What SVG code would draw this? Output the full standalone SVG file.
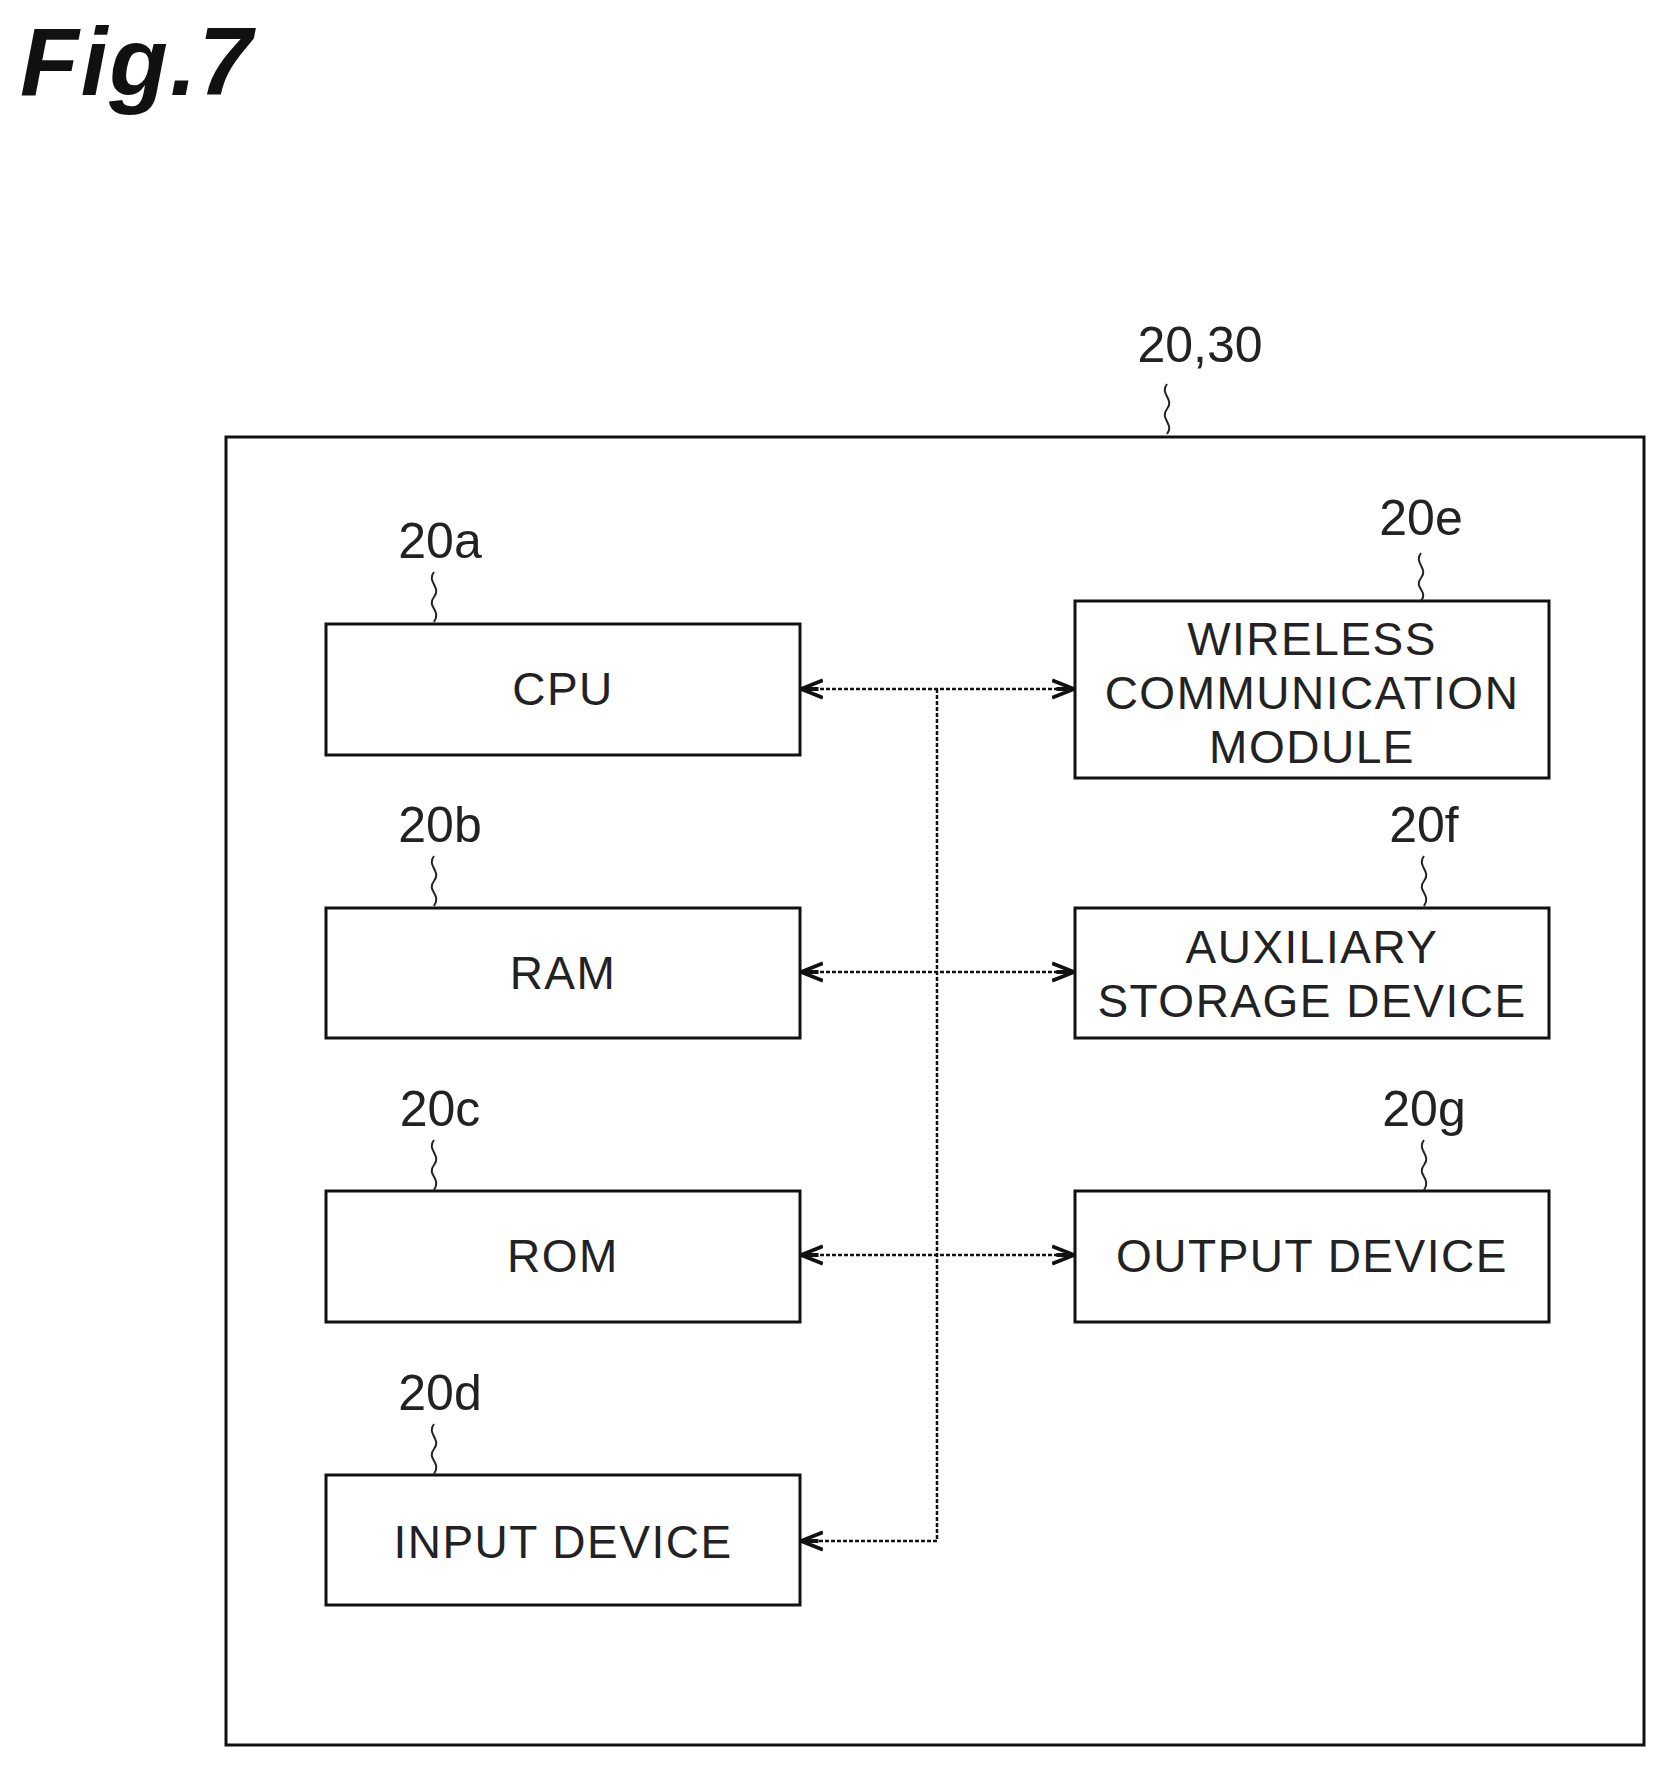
<svg xmlns="http://www.w3.org/2000/svg" width="1667" height="1768" viewBox="0 0 1667 1768">
<style>
.b{fill:none;stroke:#111;stroke-width:3}
.t{font-family:"Liberation Sans",Arial,sans-serif;font-size:46px;fill:#222;text-anchor:middle;letter-spacing:1.5px}
.l{font-family:"Liberation Sans",Arial,sans-serif;font-size:50px;fill:#222;text-anchor:middle}
.c{fill:none;stroke:#111;stroke-width:2.5;stroke-dasharray:4 2}
.q{fill:none;stroke:#222;stroke-width:2}
</style>
<defs>
<marker id="a" viewBox="0 0 20 20" refX="19" refY="10" markerWidth="22" markerHeight="22" markerUnits="userSpaceOnUse" orient="auto-start-reverse">
<path d="M0,2 L20,10 L0,18 M4,10 L20,10" fill="none" stroke="#111" stroke-width="3.5"/>
</marker>
</defs>
<rect width="1667" height="1768" fill="#fff"/>
<text x="20" y="95" font-family="Liberation Sans,Arial,sans-serif" font-size="96" font-weight="bold" font-style="italic" fill="#111" letter-spacing="2">Fig.7</text>
<g id="outer">
<rect class="b" x="226" y="437" width="1418" height="1308"/>
<text class="l" x="1200" y="362">20,30</text>
<path class="q" d="M1167,384 c-8,10 8,15 0,25 c-8,10 8,15 0,25"/>
</g>
<g id="cpu"><rect class="b" x="326" y="624" width="474" height="131"/><text class="t" x="563" y="705">CPU</text>
<text class="l" x="440" y="558">20a</text><path class="q" d="M434,572 c-8,10 8,15 0,25 c-8,10 8,13 0,25"/></g>
<g id="ram"><rect class="b" x="326" y="908" width="474" height="130"/><text class="t" x="563" y="989">RAM</text>
<text class="l" x="440" y="842">20b</text><path class="q" d="M434,856 c-8,10 8,15 0,25 c-8,10 8,13 0,25"/></g>
<g id="rom"><rect class="b" x="326" y="1191" width="474" height="131"/><text class="t" x="563" y="1272">ROM</text>
<text class="l" x="440" y="1126">20c</text><path class="q" d="M434,1140 c-8,10 8,15 0,25 c-8,10 8,13 0,25"/></g>
<g id="input"><rect class="b" x="326" y="1475" width="474" height="130"/><text class="t" x="563" y="1558">INPUT DEVICE</text>
<text class="l" x="440" y="1410">20d</text><path class="q" d="M434,1424 c-8,10 8,15 0,25 c-8,10 8,13 0,25"/></g>
<g id="wireless"><rect class="b" x="1075" y="601" width="474" height="177"/>
<text class="t" x="1312" y="655">WIRELESS</text><text class="t" x="1312" y="709">COMMUNICATION</text><text class="t" x="1312" y="763">MODULE</text>
<text class="l" x="1421" y="535">20e</text><path class="q" d="M1421,553 c-8,10 8,15 0,25 c-8,10 8,13 0,23"/></g>
<g id="aux"><rect class="b" x="1075" y="908" width="474" height="130"/>
<text class="t" x="1312" y="963">AUXILIARY</text><text class="t" x="1312" y="1017">STORAGE DEVICE</text>
<text class="l" x="1424" y="842">20f</text><path class="q" d="M1424,856 c-8,10 8,15 0,25 c-8,10 8,13 0,25"/></g>
<g id="output"><rect class="b" x="1075" y="1191" width="474" height="131"/><text class="t" x="1312" y="1272">OUTPUT DEVICE</text>
<text class="l" x="1424" y="1126">20g</text><path class="q" d="M1424,1140 c-8,10 8,15 0,25 c-8,10 8,13 0,25"/></g>
<g id="connectors">
<path class="c" d="M937,689 V1541"/>
<path class="c" d="M802,689 H1073" marker-start="url(#a)" marker-end="url(#a)"/>
<path class="c" d="M802,972 H1073" marker-start="url(#a)" marker-end="url(#a)"/>
<path class="c" d="M802,1255 H1073" marker-start="url(#a)" marker-end="url(#a)"/>
<path class="c" d="M937,1541 H802" marker-end="url(#a)"/>
</g>
</svg>
